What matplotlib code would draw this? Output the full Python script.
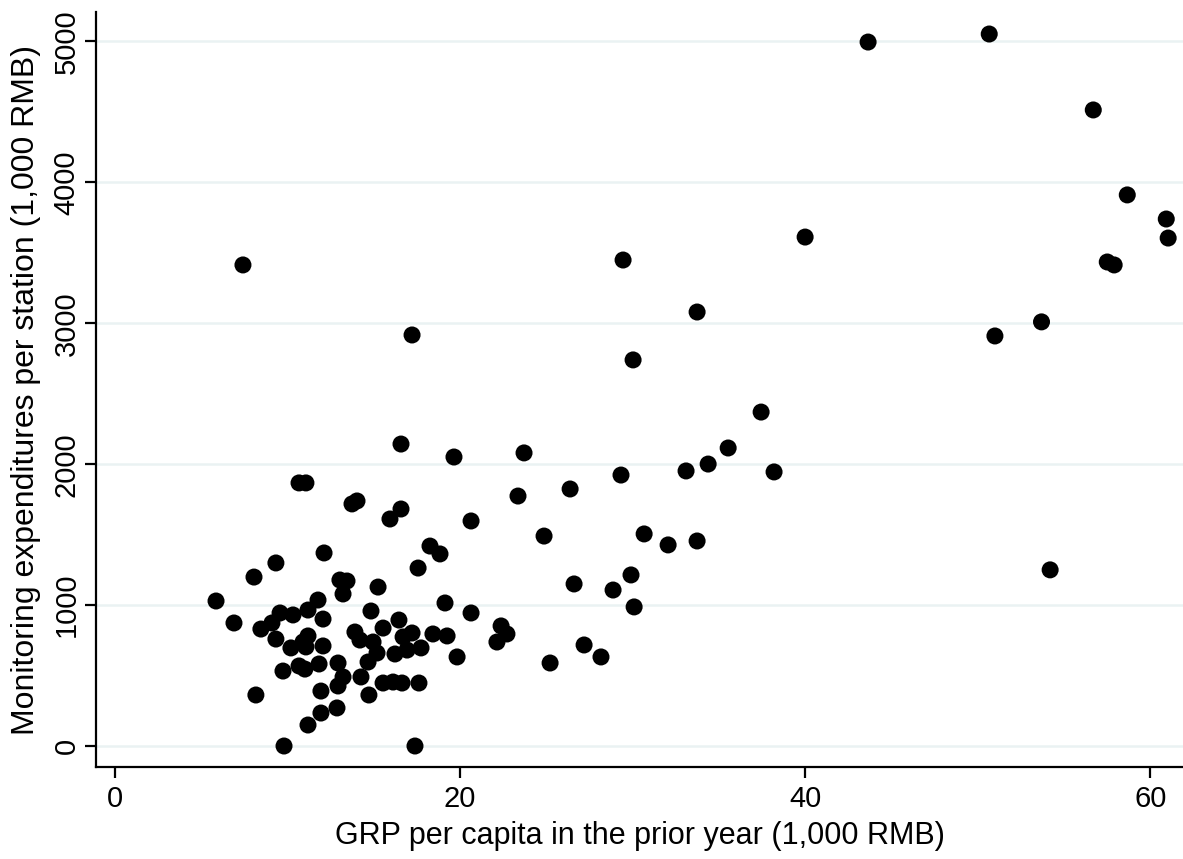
import matplotlib
matplotlib.use('Agg')
import matplotlib.pyplot as plt
import numpy as np

# GRP per capita in the prior year (1,000 RMB)
grp = [9.33, 12.12, 8.06, 13.04, 13.45, 13.22, 15.25, 17.57, 5.86, 11.77,
       11.19, 10.32, 9.57, 14.84, 19.13, 20.64, 6.90, 8.46, 9.10, 12.06,
       13.91, 15.54, 16.46, 17.22, 16.70, 18.43, 19.25, 9.33, 11.19, 10.90,
       14.20, 14.96, 10.20, 11.07, 12.06, 15.19, 14.67, 16.23, 16.93, 17.74,
       19.83, 9.74, 10.67, 11.01, 11.83, 12.93, 13.22, 14.26, 12.93, 15.54,
       16.12, 16.64, 17.62, 14.72, 11.94, 8.17, 11.94, 12.87, 11.19, 9.80,
       17.39,
       16.58, 19.65, 10.67, 11.07, 13.74, 14.03, 16.58, 15.94, 20.64, 18.26,
       18.84,
       29.45, 33.74, 30.03, 37.45, 23.71, 33.10, 34.38, 35.54, 38.20, 29.33,
       23.36, 26.38, 24.87, 30.67, 32.06, 33.74, 26.61, 28.87, 29.91, 30.09,
       22.38, 22.72, 22.14, 25.22, 27.19, 28.17,
       43.65, 50.67, 56.70, 58.67, 60.93, 61.04, 57.51, 57.91, 40.00,
       7.42, 17.22, 51.0, 53.7, 54.2]

# Monitoring expenditures per station (1,000 RMB)
spend = [1299, 1370, 1199, 1178, 1171, 1079, 1128, 1263, 1029, 1036,
         965, 930, 944, 958, 1015, 944, 873, 830, 873, 901,
         809, 837, 894, 802, 774, 795, 781, 759, 781, 738,
         752, 738, 696, 703, 710, 660, 596, 653, 681, 696,
         632, 532, 568, 546, 582, 589, 490, 490, 426, 447,
         454, 447, 447, 362, 390, 362, 234, 270, 149, 0,
         0,
         2143, 2051, 1867, 1867, 1718, 1739, 1682, 1611, 1597, 1419,
         1363,
         3449, 3080, 2740, 2370, 2080, 1952, 2001, 2115, 1945, 1923,
         1774, 1824, 1490, 1505, 1427, 1455, 1150, 1107, 1214, 987,
         852, 795, 738, 589, 717, 632,
         4996, 5053, 4514, 3911, 3740, 3605, 3435, 3414, 3612,
         3414, 2917, 2910, 3010, 1250]

xticks = [0, 20, 40, 60]
yticks = [0, 1000, 2000, 3000, 4000, 5000]

plt.rcParams['font.family'] = ['Liberation Sans', 'DejaVu Sans']

fig = plt.figure(figsize=(11.83, 8.59), dpi=100)
ax = fig.add_axes([0.0811, 0.1071, 0.9189, 0.8789])

ax.scatter(grp, spend, s=150, color='black', edgecolors='none', zorder=3)

ax.set_xlim(-1.1, 61.9)
ax.set_ylim(-149, 5209)
ax.set_xticks(xticks)
ax.set_yticks(yticks)

ax.grid(axis='y', color='#eaf2f3', linewidth=1.8, zorder=0)
ax.set_axisbelow(True)

for side in ['top', 'right']:
    ax.spines[side].set_visible(False)
for side in ['left', 'bottom']:
    ax.spines[side].set_linewidth(1.6)

ax.tick_params(direction='out', length=8, width=1.6, labelsize=21, pad=5)
ax.tick_params(axis='y', pad=3)
for lab in ax.get_yticklabels():
    lab.set_rotation(90)
    lab.set_verticalalignment('center')

ax.set_xlabel('GRP per capita in the prior year (1,000 RMB)', fontsize=22, va='center')
ax.xaxis.set_label_coords(0.5, -0.092)
ax.set_ylabel('Monitoring expenditures per station (1,000 RMB)', fontsize=23, va='center')
ax.yaxis.set_label_coords(-0.064, 0.50)

fig.savefig('out.png', dpi=100)
